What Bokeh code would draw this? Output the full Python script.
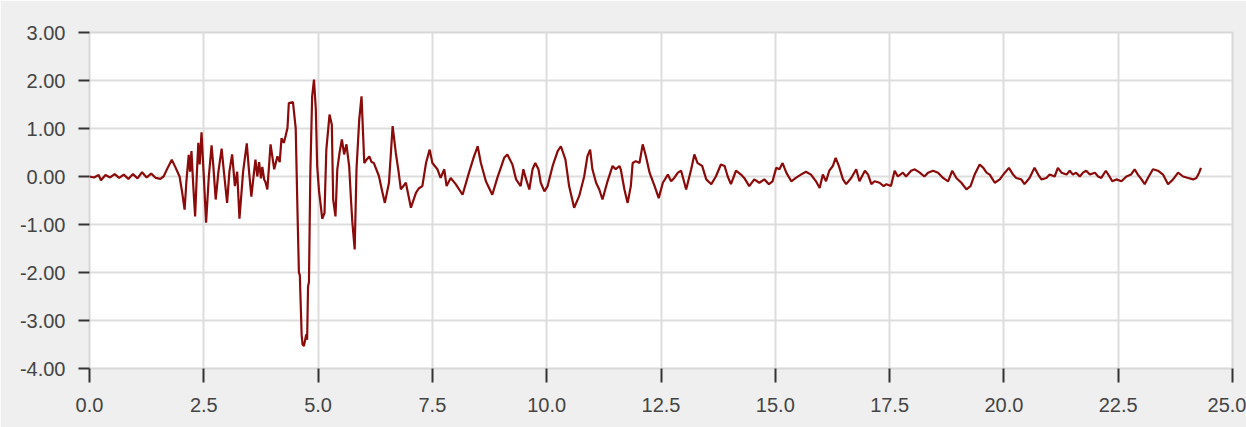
from bokeh.plotting import figure
from bokeh.models import Range1d, FixedTicker, NumeralTickFormatter
from bokeh.embed import file_html
from bokeh.resources import INLINE

# time (s)
time_s = [
    0.00, 0.10, 0.20, 0.25, 0.35, 0.45, 0.55, 0.65, 0.75, 0.85, 0.95, 1.05, 1.15, 1.25, 1.35, 1.45, 1.55,
    1.62, 1.72, 1.80, 1.88, 1.97, 2.03, 2.08, 2.12, 2.17, 2.20, 2.23, 2.27, 2.31, 2.35, 2.38, 2.41, 2.45,
    2.50, 2.55, 2.61, 2.67, 2.71, 2.76, 2.82, 2.89, 2.95, 3.01, 3.06, 3.12, 3.18, 3.23, 3.28, 3.36, 3.44,
    3.49, 3.54, 3.60, 3.63, 3.67, 3.71, 3.75, 3.78, 3.82, 3.85, 3.89, 3.96, 4.04, 4.11, 4.16, 4.20, 4.25,
    4.29, 4.33, 4.36, 4.45, 4.51, 4.55, 4.58, 4.60, 4.64, 4.66, 4.69, 4.74, 4.76, 4.78, 4.80, 4.83, 4.87,
    4.91, 4.95, 4.98, 5.02, 5.06, 5.09, 5.14, 5.18, 5.25, 5.30, 5.33, 5.38, 5.42, 5.47, 5.52, 5.57, 5.62,
    5.68, 5.72, 5.75, 5.80, 5.84, 5.90, 5.95, 6.01, 6.06, 6.12, 6.17, 6.22, 6.33, 6.40, 6.46, 6.55, 6.63,
    6.70, 6.76, 6.81, 6.92, 7.03, 7.14, 7.20, 7.28, 7.36, 7.44, 7.50, 7.61, 7.68, 7.76, 7.81, 7.90, 8.01,
    8.16, 8.30, 8.41, 8.49, 8.56, 8.67, 8.81, 8.92, 9.07, 9.14, 9.25, 9.33, 9.43, 9.49, 9.54, 9.62, 9.69,
    9.75, 9.82, 9.87, 9.95, 10.02, 10.13, 10.24, 10.31, 10.41, 10.49, 10.60, 10.71, 10.82, 10.89, 10.95,
    11.00, 11.08, 11.15, 11.22, 11.33, 11.44, 11.51, 11.59, 11.62, 11.70, 11.77, 11.84, 11.88, 11.95,
    12.03, 12.10, 12.17, 12.25, 12.36, 12.45, 12.54, 12.65, 12.72, 12.79, 12.87, 12.94, 13.05, 13.16,
    13.23, 13.30, 13.40, 13.49, 13.60, 13.70, 13.81, 13.89, 13.96, 14.03, 14.14, 14.25, 14.32, 14.43,
    14.54, 14.65, 14.76, 14.86, 14.94, 15.02, 15.09, 15.16, 15.24, 15.35, 15.45, 15.56, 15.67, 15.78,
    15.89, 15.97, 16.04, 16.11, 16.18, 16.26, 16.32, 16.39, 16.48, 16.55, 16.66, 16.77, 16.84, 16.96,
    17.03, 17.10, 17.17, 17.28, 17.37, 17.43, 17.53, 17.61, 17.68, 17.79, 17.86, 17.97, 18.05, 18.16,
    18.26, 18.34, 18.45, 18.56, 18.67, 18.78, 18.87, 18.96, 19.07, 19.18, 19.27, 19.36, 19.47, 19.55,
    19.62, 19.69, 19.80, 19.91, 20.02, 20.11, 20.20, 20.27, 20.38, 20.45, 20.56, 20.67, 20.75, 20.82,
    20.93, 21.00, 21.11, 21.18, 21.26, 21.37, 21.44, 21.51, 21.58, 21.66, 21.73, 21.80, 21.88, 21.99,
    22.06, 22.13, 22.23, 22.31, 22.37, 22.46, 22.57, 22.68, 22.78, 22.86, 22.93, 23.01, 23.08, 23.15,
    23.26, 23.37, 23.48, 23.59, 23.70, 23.81, 23.92, 24.03, 24.14, 24.21, 24.27, 24.31,
]

# acceleration values
accel = [
    0.00, -0.02, 0.03, -0.08, 0.03, -0.02, 0.05, -0.03, 0.04, -0.05, 0.05, -0.04, 0.09, -0.02, 0.06, -0.03, -0.05,
    0.00, 0.20, 0.35, 0.19, 0.00, -0.35, -0.69, -0.10, 0.45, 0.10, 0.53, -0.20, -0.83, 0.10, 0.70, 0.25, 0.92,
    0.00, -0.96, 0.00, 0.65, 0.20, -0.48, 0.10, 0.58, 0.00, -0.55, 0.10, 0.46, -0.20, 0.10, -0.88, 0.10, 0.69,
    0.10, -0.42, 0.10, 0.35, 0.00, 0.30, -0.04, 0.20, -0.06, -0.12, -0.27, 0.67, 0.15, 0.42, 0.30, 0.80, 0.70,
    0.85, 1.01, 1.53, 1.55, 1.01, -0.76, -2.00, -2.05, -3.30, -3.50, -3.53, -3.29, -3.40, -2.29, -2.20, 0.08, 1.67,
    2.02, 1.40, 0.21, -0.30, -0.62, -0.88, -0.76, 0.56, 1.29, 1.08, -0.48, -0.83, 0.15, 0.50, 0.77, 0.46, 0.67,
    0.21, -0.50, -0.96, -1.52, 0.15, 1.19, 1.67, 0.28, 0.35, 0.42, 0.30, 0.28, 0.01, -0.30, -0.55, -0.13, 1.05,
    0.49, 0.10, -0.27, -0.13, -0.65, -0.34, -0.25, -0.20, 0.28, 0.56, 0.28, 0.15, -0.03, 0.15, -0.20, -0.03, -0.16,
    -0.38, 0.08, 0.42, 0.63, 0.28, -0.10, -0.38, -0.03, 0.39, 0.46, 0.25, -0.06, -0.20, 0.15, -0.03, -0.27, 0.15,
    0.28, 0.15, -0.13, -0.31, -0.20, 0.22, 0.53, 0.63, 0.35, -0.20, -0.65, -0.41, 0.00, 0.42, 0.56,
    0.15, -0.13, -0.27, -0.48, -0.10, 0.22, 0.15, 0.22, 0.15, -0.27, -0.55, -0.20, 0.28, 0.32,
    0.28, 0.67, 0.42, 0.08, -0.20, -0.45, -0.13, 0.04, -0.10, -0.03, 0.08, 0.12, -0.27, 0.15,
    0.46, 0.28, 0.22, -0.06, -0.16, 0.00, 0.25, 0.22, 0.00, -0.16, 0.12, 0.04, -0.03, -0.20,
    -0.06, -0.13, -0.06, -0.16, -0.10, 0.18, 0.15, 0.28, 0.08, -0.10, -0.03, 0.04, 0.10, 0.04,
    -0.10, -0.24, 0.04, -0.10, 0.12, 0.22, 0.39, 0.22, -0.06, -0.16, -0.03, 0.15, -0.10, 0.12,
    0.04, -0.16, -0.10, -0.13, -0.20, -0.16, -0.20, 0.12, 0.00, 0.08, 0.00, 0.12, 0.15, 0.08,
    0.00, 0.08, 0.12, 0.08, -0.03, -0.10, 0.12, -0.03, -0.13, -0.27, -0.20, 0.04, 0.25, 0.18,
    0.08, 0.04, -0.13, -0.06, 0.08, 0.18, 0.04, -0.03, -0.06, -0.16, -0.03, 0.18, 0.04, -0.06,
    -0.03, 0.04, 0.00, 0.18, 0.08, 0.04, 0.12, 0.04, 0.08, 0.00, 0.08, 0.12, 0.04, 0.08,
    0.00, -0.03, 0.12, 0.00, -0.10, -0.06, -0.10, 0.00, 0.04, 0.15, 0.04, -0.06, -0.16, -0.03,
    0.15, 0.12, 0.04, -0.16, -0.06, 0.08, 0.00, -0.03, -0.06, -0.03, 0.08, 0.18,
]

x_ticks = [0, 2.5, 5, 7.5, 10, 12.5, 15, 17.5, 20, 22.5, 25]
y_ticks = [-4, -3, -2, -1, 0, 1, 2, 3]

p = figure(width=1246, height=427, output_backend="svg", toolbar_location=None,
           x_range=Range1d(0, 25), y_range=Range1d(-4, 3),
           min_border_left=89, min_border_right=14, min_border_top=32, min_border_bottom=59)

p.border_fill_color = "#efefef"
p.background_fill_color = "white"
p.outline_line_color = "#d8d8d8"
p.outline_line_width = 2

p.line(time_s, accel, line_color="#8b0a0a", line_width=2.2)

p.xaxis.ticker = FixedTicker(ticks=x_ticks)
p.yaxis.ticker = FixedTicker(ticks=y_ticks)
p.xaxis.formatter = NumeralTickFormatter(format="0.0")
p.yaxis.formatter = NumeralTickFormatter(format="0.00")

for ax in (p.xaxis, p.yaxis):
    ax.axis_line_color = None
    ax.major_tick_in = 0
    ax.minor_tick_line_color = None
    ax.major_tick_line_color = "#333333"
    ax.major_tick_line_width = 2
    ax.major_label_text_font = "Liberation Sans"
    ax.major_label_text_font_size = "20px"
    ax.major_label_text_color = "#444444"

p.xaxis.major_tick_out = 14
p.xaxis.major_label_standoff = 15
p.yaxis.major_tick_out = 11
p.yaxis.major_label_standoff = 13

p.xgrid.ticker = FixedTicker(ticks=x_ticks)
p.ygrid.ticker = FixedTicker(ticks=y_ticks)
p.grid.grid_line_color = "#dddddd"
p.grid.grid_line_width = 2

open("out.html", "w").write(file_html(p, INLINE))
